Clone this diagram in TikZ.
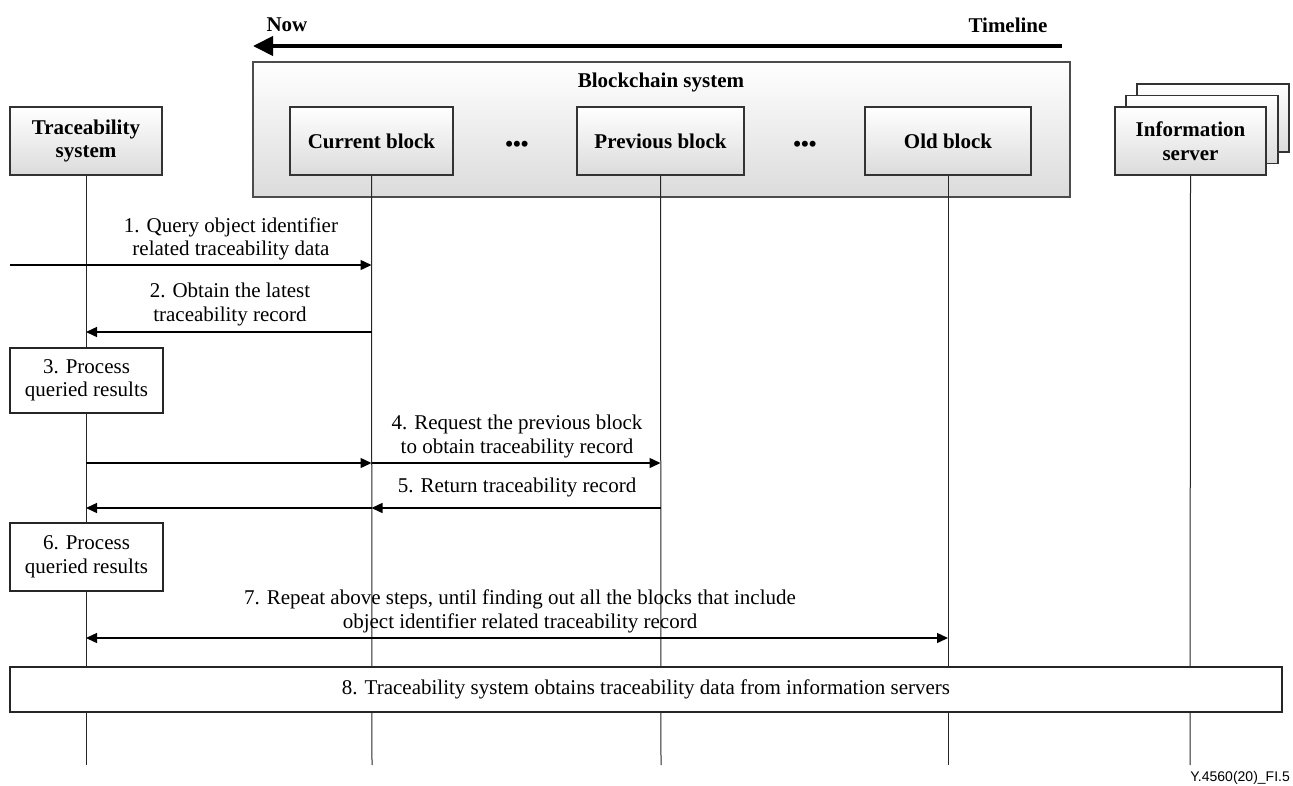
\documentclass[tikz,border=0pt]{standalone}
\usepackage{fontspec}
\setmainfont{Liberation Serif}
\newfontfamily\footfont{Liberation Sans}
\usetikzlibrary{arrows.meta}
\begin{document}
\begin{tikzpicture}[x=1pt,y=-1pt,
  font=\fontsize{21}{23.5}\selectfont,
  hdr/.style={draw=black!80, line width=1.3pt, top color=white, bottom color=black!14,
    font=\fontsize{21}{23.5}\selectfont\bfseries, align=center, inner sep=0pt},
  proc/.style={draw=black!85, line width=1.3pt, fill=white, align=center, inner sep=0pt},
  life/.style={line width=1pt, black!85},
  msg/.style={line width=1.4pt, -{Triangle[length=11pt,width=10pt]}},
  dmsg/.style={line width=1.4pt, {Triangle[length=11pt,width=10pt]}-{Triangle[length=11pt,width=10pt]}},
  lbl/.style={align=center, inner sep=0pt},
  dots/.style={font=\fontsize{22}{23.5}\selectfont\bfseries, inner sep=0pt}]
\useasboundingbox (0,0) rectangle (1293,785);

% timeline
\coordinate (tlR) at (1062,46);
\coordinate (tlL) at (253,46);
\draw[line width=4pt, -{Triangle[length=20pt,width=19pt]}] (tlR) -- (tlL);
\node[font=\fontsize{21}{23.5}\selectfont\bfseries, inner sep=0pt] (now) at (287,25) {Now};
\node[font=\fontsize{21}{23.5}\selectfont\bfseries, inner sep=0pt] (tline) at (1008,25) {Timeline};

% blockchain system
\node[hdr, draw=black!70, minimum width=817pt, minimum height=135pt] (bc) at (661.5,129.5) {};
\node[font=\fontsize{21}{23.5}\selectfont\bfseries, inner sep=0pt] (bct) at (661,82) {Blockchain system};
\node[hdr, minimum width=163pt, minimum height=68pt] (cb) at (371.5,141) {Current block};
\node[hdr, minimum width=167pt, minimum height=68pt] (pb) at (660.5,141) {Previous block};
\node[hdr, minimum width=166pt, minimum height=68pt] (ob) at (948,141) {Old block};
\node[dots] (d1) at (517,146) {•••};
\node[dots] (d2) at (805,146) {•••};

% traceability system
\node[hdr, minimum width=152pt, minimum height=68pt] (ts) at (86,141) {Traceability\\system};

% information servers
\node[hdr, minimum width=152pt, minimum height=68pt] (is3) at (1213,118) {};
\node[hdr, minimum width=152pt, minimum height=68pt] (is2) at (1202,129.5) {};
\node[hdr, minimum width=151pt, minimum height=68pt] (is) at (1190.5,141) {Information\\server};

% lifelines
\coordinate (tsE) at (86,765);
\coordinate (cbE) at (372,765);
\coordinate (pbE) at (661,765);
\coordinate (obE) at (948,765);
\coordinate (isE) at (1190,765);
\draw[life] (ts.south) -- (tsE);
\draw[life] (cb.south) -- (cbE);
\draw[life] (pb.south) -- (pbE);
\draw[life] (ob.south) -- (obE);
\draw[life] (is.south) -- (isE);

% 1
\coordinate (in1) at (10,265);
\draw[msg] (in1) -- (cb.south |- in1);
\node[lbl] (l1) at (231,239) {1. Query object identifier\\related traceability data};
% 2
\coordinate (m2) at (0,332);
\draw[msg] (cb.south |- m2) -- (ts.south |- m2);
\node[lbl] (l2) at (230,304.5) {2. Obtain the latest\\traceability record};
% 3
\node[proc, minimum width=153pt, minimum height=65pt] (p3) at (86.5,380.5) {3. Process\\queried results};
% 4
\coordinate (m4) at (0,463);
\draw[msg] (ts.south |- m4) -- (cb.south |- m4);
\draw[msg] (cb.south |- m4) -- (pb.south |- m4);
\node[lbl] (l4) at (517,436.5) {4. Request the previous block\\to obtain traceability record};
% 5
\coordinate (m5) at (0,508);
\draw[msg] (pb.south |- m5) -- (cb.south |- m5);
\draw[msg] (cb.south |- m5) -- (ts.south |- m5);
\node[lbl] (l5) at (517,487) {5. Return traceability record};
% 6
\node[proc, minimum width=153pt, minimum height=68pt] (p6) at (86.5,557) {6. Process\\queried results};
% 7
\coordinate (m7) at (0,638);
\draw[dmsg] (ts.south |- m7) -- (ob.south |- m7);
\node[lbl] (l7) at (520,611.5) {7. Repeat above steps, until finding out all the blocks that include\\object identifier related traceability record};
% 8
\node[proc, minimum width=1272pt, minimum height=45pt] (p8) at (646,689.5) {8. Traceability system obtains traceability data from information servers};

% footer
\node[font=\footfont\fontsize{14}{16}\selectfont, anchor=east, inner sep=0pt] (foot) at (1290,778) {Y.4560(20)\_FI.5};
\end{tikzpicture}
\end{document}
